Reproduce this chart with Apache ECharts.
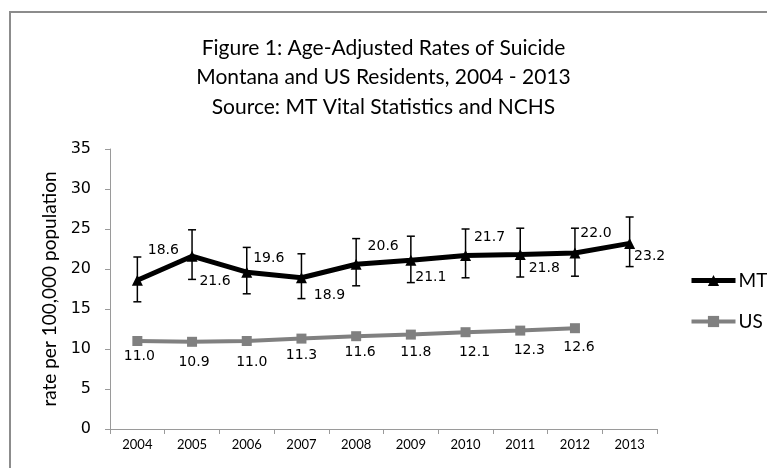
<!DOCTYPE html>
<html><head><meta charset="utf-8">
<script src="https://cdn.jsdelivr.net/npm/echarts@6/dist/echarts.min.js"></script>
<style>html,body{margin:0;padding:0;background:#fff}#c{width:767px;height:468px}</style>
</head><body><div id="c"></div>
<script>
const years = ['2004','2005','2006','2007','2008','2009','2010','2011','2012','2013'];
const mtRates = [18.6, 21.6, 19.6, 18.9, 20.6, 21.1, 21.7, 21.8, 22.0, 23.2];
const usRates = [11.0, 10.9, 11.0, 11.3, 11.6, 11.8, 12.1, 12.3, 12.6, null];
const mtLow  = [15.9, 18.7, 16.9, 16.3, 17.9, 18.3, 18.9, 19.0, 19.1, 20.3];
const mtHigh = [21.5, 24.9, 22.7, 21.9, 23.8, 24.1, 25.0, 25.1, 25.1, 26.5];
const yTicks = [0, 5, 10, 15, 20, 25, 30, 35];
// label placement (pixel offsets from point), styling only
const mtLabelOffsets = [[26,-30],[23,25],[22,-14],[28,18],[27,-18],[20,17],[24,-18],[24,14],[21,-20],[20,13]];
const usLabelOffsets = [[2,15],[2,21],[5,21],[0,17],[4,16],[5,18],[9,20],[9,20],[4,19]];

const NARROW = 'Lato, "Open Sans", sans-serif';
const LBL = {fontFamily:'DejaVu Sans', fontSize:14, color:'#000'};
const chart = echarts.init(document.getElementById('c'));
chart.setOption({
  animation:false,
  graphic:[{type:'rect', shape:{x:10, y:12, width:800, height:500}, style:{fill:'none', stroke:'#8c8c8c', lineWidth:2}, silent:true}],
  title:{
    text:'Figure 1: Age-Adjusted Rates of Suicide\nMontana and US Residents, 2004 - 2013\nSource: MT Vital Statistics and NCHS',
    left:'center', top:28,
    textStyle:{fontFamily:NARROW, fontSize:21, fontWeight:'normal', color:'#000', lineHeight:29.5}
  },
  legend:{
    orient:'vertical', left:684, top:266, itemWidth:44, itemHeight:14, itemGap:22,
    textStyle:{fontFamily:NARROW, fontSize:19, color:'#000', padding:[0,0,0,-2]},
    data:[{name:'MT', lineStyle:{width:5, color:'#000'}}, {name:'US', lineStyle:{width:4, color:'#808080'}}]
  },
  grid:{left:110, right:110, top:149, bottom:39},
  xAxis:{
    type:'category', data:years, boundaryGap:true,
    axisLine:{lineStyle:{color:'#9a9a9a', width:1}},
    axisTick:{show:true, length:5, alignWithLabel:false, lineStyle:{color:'#9a9a9a'}},
    axisLabel:{fontFamily:NARROW, fontSize:13, color:'#000', margin:9}
  },
  yAxis:{
    type:'value', min:yTicks[0], max:yTicks[yTicks.length-1], interval:5,
    name:'rate per 100,000 population', nameLocation:'middle', nameGap:43, nameRotate:90,
    nameTextStyle:{fontFamily:NARROW, fontSize:19, color:'#000'},
    axisLine:{show:true, lineStyle:{color:'#9a9a9a', width:1}},
    axisTick:{show:true, length:5, lineStyle:{color:'#9a9a9a'}},
    splitLine:{show:false},
    axisLabel:{fontFamily:'DejaVu Sans', fontSize:16, color:'#000', margin:19}
  },
  series:[
    {
      name:'MT', type:'line', data:mtRates.map((v,i)=>({value:v, label:{offset:mtLabelOffsets[i]}})),
      z:3, symbol:'triangle', symbolSize:11,
      lineStyle:{color:'#000', width:5}, itemStyle:{color:'#000'},
      label:{show:true, position:'inside', align:'center', verticalAlign:'middle', formatter:p=>p.value.toFixed(1), ...LBL}
    },
    {
      name:'US', type:'line', data:usRates.map((v,i)=>({value:v, label:{offset:usLabelOffsets[i]||[0,0]}})),
      z:2, symbol:'rect', symbolSize:10,
      lineStyle:{color:'#808080', width:4}, itemStyle:{color:'#808080'},
      label:{show:true, position:'inside', align:'center', verticalAlign:'middle', formatter:p=>p.value==null?'':p.value.toFixed(1), ...LBL}
    },
    {
      name:'MT CI', type:'custom', z:4,
      data:mtLow.map((lo,i)=>[i, lo, mtHigh[i]]),
      renderItem:(params, api)=>{
        const lo = api.coord([api.value(0), api.value(1)]);
        const hi = api.coord([api.value(0), api.value(2)]);
        const w = 4;
        const st = {stroke:'#000', lineWidth:1.5};
        return {type:'group', children:[
          {type:'line', shape:{x1:lo[0], y1:lo[1], x2:hi[0], y2:hi[1]}, style:st},
          {type:'line', shape:{x1:lo[0]-w, y1:lo[1], x2:lo[0]+w, y2:lo[1]}, style:st},
          {type:'line', shape:{x1:hi[0]-w, y1:hi[1], x2:hi[0]+w, y2:hi[1]}, style:st}
        ]};
      },
      encode:{x:0, y:[1,2]}
    }
  ]
});
</script></body></html>
